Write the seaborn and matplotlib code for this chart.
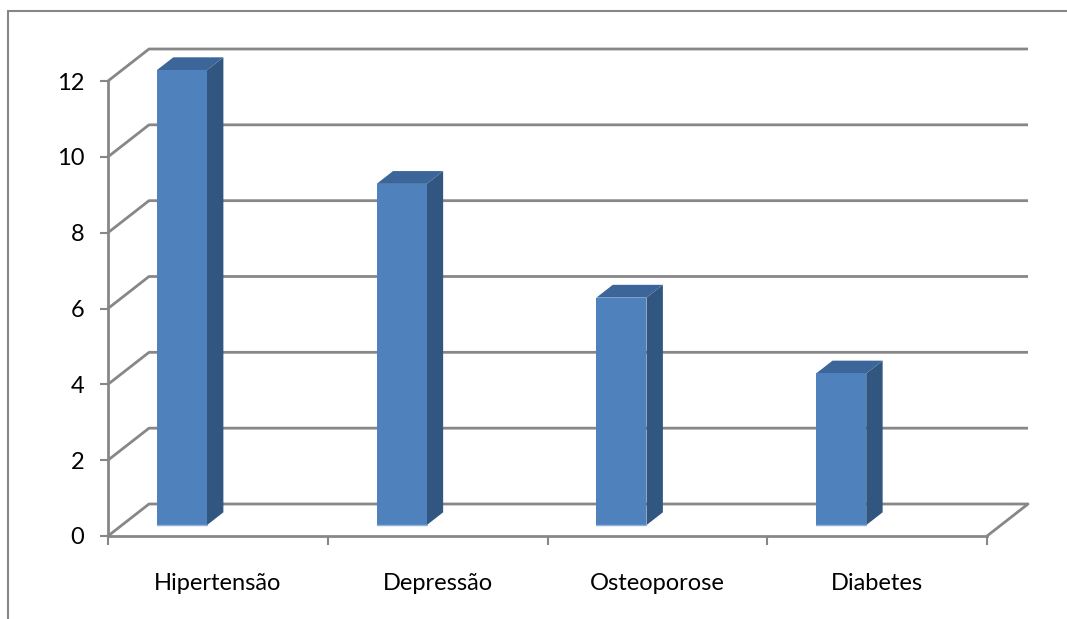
import numpy as np
import matplotlib
matplotlib.use("Agg")
import matplotlib.pyplot as plt
from matplotlib.transforms import Affine2D
from matplotlib.patches import Polygon
from matplotlib.lines import Line2D
import seaborn as sns

# Data
categories = ["Hipertensão", "Depressão", "Osteoporose", "Diabetes"]
values = [12, 9, 6, 4]
y_ticks = [0, 2, 4, 6, 8, 10, 12]

sns.set_style("white")
plt.rcParams["font.family"] = ["Lato", "DejaVu Sans"]

GRID = "#878787"
FRONT = "#4f81bd"
SIDE = "#31567f"
TOP = "#3c669a"
LABEL_SIZE = 17

fig = plt.figure(figsize=(10.67, 6.19), dpi=100)
# Axes = front plane of the 3-D box
ax = fig.add_axes([108 / 1067, (619 - 536) / 619, (987 - 108) / 1067, 455 / 619])

# oblique depth offset of the back wall, in data units
DX, DY = 0.1866, 0.844
F0, F1 = 0.34, 0.74          # depth of bar front / back faces
BAR_W = 0.228
BAR_SHIFT = -0.227

sns.barplot(x=categories, y=values, color=FRONT, saturation=1, width=BAR_W,
            ax=ax, zorder=5)

shift = Affine2D().translate(BAR_SHIFT + F0 * DX, F0 * DY)
s = F1 - F0
for p in ax.patches:
    p.set_transform(shift + ax.transData)
    p.set_clip_on(False)
    p.set_edgecolor("none")
    x0 = p.get_x() + BAR_SHIFT + F0 * DX
    x1 = x0 + p.get_width()
    yb = p.get_y() + F0 * DY
    yt = yb + p.get_height()
    side = Polygon([(x1, yb), (x1 + s * DX, yb + s * DY),
                    (x1 + s * DX, yt + s * DY), (x1, yt)],
                   closed=True, facecolor=SIDE, edgecolor="none",
                   zorder=4, clip_on=False)
    top = Polygon([(x0, yt), (x1, yt), (x1 + s * DX, yt + s * DY),
                   (x0 + s * DX, yt + s * DY)],
                  closed=True, facecolor=TOP, edgecolor="none",
                  zorder=4, clip_on=False)
    ax.add_patch(side)
    ax.add_patch(top)
    # light rim along the bar base
    ax.add_line(Line2D([x0, x1], [yb, yb], color="#8fb2e0", lw=1.0,
                       zorder=6, clip_on=False))

xl, xr = -0.5, 3.5
ax.set_xlim(xl, xr)
ax.set_ylim(0, 12)

# back wall gridlines with their left-wall diagonals
for yv in y_ticks:
    ax.plot([xl, xl + DX, xr + DX], [yv, yv + DY, yv + DY], color=GRID,
            lw=2.0, zorder=1, clip_on=False, solid_capstyle="butt")
# right floor edge
ax.plot([xr, xr + DX], [0, DY], color=GRID, lw=2.0, zorder=1, clip_on=False)

# axes styling
for side_name in ["top", "right"]:
    ax.spines[side_name].set_visible(False)
for side_name in ["left", "bottom"]:
    ax.spines[side_name].set_color(GRID)
    ax.spines[side_name].set_linewidth(2.0)
ax.set_xlabel("")
ax.set_ylabel("")
ax.set_yticks(y_ticks)
ax.set_yticklabels([str(v) for v in y_ticks])
ax.set_xticks(np.arange(xl, xr + 0.01, 1.0))
ax.set_xticklabels([])
ax.set_xticks(np.arange(len(categories)), minor=True)
ax.set_xticklabels(categories, minor=True)
ax.tick_params(axis="y", which="major", length=6, width=1.5, color=GRID,
               direction="out", left=True, pad=11, labelsize=LABEL_SIZE,
               labelcolor="black")
ax.tick_params(axis="x", which="major", length=6.5, width=1.5, color=GRID,
               direction="out", bottom=True)
ax.tick_params(axis="x", which="minor", length=0, pad=26.5, labelsize=LABEL_SIZE,
               labelcolor="black")
ax.set_facecolor("none")
ax.grid(False)

# outer chart frame
fig.add_artist(Line2D([8 / 1067, 8 / 1067], [0, 1 - 11 / 619], color=GRID,
                      lw=1.5, transform=fig.transFigure))
fig.add_artist(Line2D([8 / 1067, 1], [1 - 11 / 619, 1 - 11 / 619], color=GRID,
                      lw=1.5, transform=fig.transFigure))

fig.savefig("out.png", dpi=100)
